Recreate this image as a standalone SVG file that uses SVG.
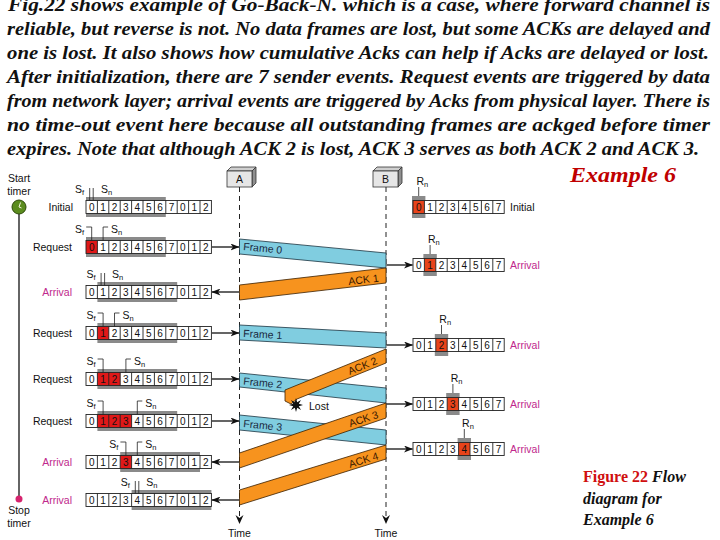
<svg xmlns="http://www.w3.org/2000/svg" width="720" height="540" viewBox="0 0 720 540">
<style>
.para{font-family:"Liberation Serif","Times New Roman",serif;font-weight:bold;font-style:italic;font-size:19px;fill:#111}
.lbl{font-family:"Liberation Sans",Arial,sans-serif;font-size:10.5px;fill:#111}
.arr{fill:#c0288c}
.dig{font-family:"Liberation Sans",Arial,sans-serif;font-size:10px;fill:#111;text-anchor:middle}
.ptr{font-family:"Liberation Sans",Arial,sans-serif;font-size:10.5px;fill:#111}
.sub{font-size:7.5px}
.win{fill:#8a8a8a}
.cellbg{fill:#fff}
.sred{fill:#e01818}
.rred{fill:#e8431a}
.grid{fill:none;stroke:#222;stroke-width:0.9}
.pl{fill:none;stroke:#222;stroke-width:0.8}
.conn{stroke:#111;stroke-width:1.3;fill:none}
.life{stroke:#222;stroke-width:1;stroke-dasharray:5,4;fill:none}
.frame{fill:#80cde0;stroke:#1c3440;stroke-width:0.8}
.ack{fill:#f7931e;stroke:#3a2000;stroke-width:0.8}
.bl{font-family:"Liberation Sans",Arial,sans-serif;font-size:10.5px;fill:#1a2a40}
.al{font-family:"Liberation Sans",Arial,sans-serif;font-size:10.5px;fill:#3a1800;text-anchor:end}
</style>
<defs>
<marker id="ah" markerWidth="9" markerHeight="7" refX="8.5" refY="3.5" orient="auto" markerUnits="userSpaceOnUse"><path d="M0,0 L9,3.5 L0,7 L2.5,3.5 z" fill="#111"/></marker>
<g id="sgrid">
<rect class="grid" x="86" y="-6.5" width="125.4" height="13"/>
<path class="grid" d="M97.4,-6.5V6.5M108.8,-6.5V6.5M120.2,-6.5V6.5M131.6,-6.5V6.5M143,-6.5V6.5M154.4,-6.5V6.5M165.8,-6.5V6.5M177.2,-6.5V6.5M188.6,-6.5V6.5M200,-6.5V6.5"/>
<text class="dig" y="3.6"><tspan x="91.7">0</tspan><tspan x="103.1">1</tspan><tspan x="114.5">2</tspan><tspan x="125.9">3</tspan><tspan x="137.3">4</tspan><tspan x="148.7">5</tspan><tspan x="160.1">6</tspan><tspan x="171.5">7</tspan><tspan x="182.9">0</tspan><tspan x="194.3">1</tspan><tspan x="205.7">2</tspan></text>
</g>
<g id="rgrid">
<rect class="grid" x="413" y="-6.5" width="91.2" height="13"/>
<path class="grid" d="M424.4,-6.5V6.5M435.8,-6.5V6.5M447.2,-6.5V6.5M458.6,-6.5V6.5M470,-6.5V6.5M481.4,-6.5V6.5M492.8,-6.5V6.5"/>
<text class="dig" y="3.6"><tspan x="418.7">0</tspan><tspan x="430.1">1</tspan><tspan x="441.5">2</tspan><tspan x="452.9">3</tspan><tspan x="464.3">4</tspan><tspan x="475.7">5</tspan><tspan x="487.1">6</tspan><tspan x="498.5">7</tspan></text>
</g>
</defs>

<g id="paragraph">
<text class="para" x="8" y="11" textLength="702" lengthAdjust="spacingAndGlyphs">Fig.22 shows example of Go-Back-N. which is a case, where  forward channel is</text>
<text class="para" x="7" y="35" textLength="703" lengthAdjust="spacingAndGlyphs">reliable, but reverse is not. No data frames are lost, but some ACKs are delayed and</text>
<text class="para" x="7" y="59" textLength="702" lengthAdjust="spacingAndGlyphs">one is lost. It also shows how cumulative Acks can help if Acks are delayed or lost.</text>
<text class="para" x="7" y="83" textLength="703" lengthAdjust="spacingAndGlyphs">After initialization, there are 7 sender events. Request events are triggered by data</text>
<text class="para" x="7" y="107" textLength="703" lengthAdjust="spacingAndGlyphs">from network layer; arrival events are triggered by Acks from physical layer. There is</text>
<text class="para" x="7" y="131" textLength="703" lengthAdjust="spacingAndGlyphs">no time-out event here because all outstanding frames are ackged before timer</text>
<text class="para" x="7" y="155" textLength="692" lengthAdjust="spacingAndGlyphs">expires. Note that although ACK 2 is lost, ACK 3 serves as both ACK 2 and ACK 3.</text>
</g>

<g id="example-title">
<text x="570" y="182" textLength="106" lengthAdjust="spacingAndGlyphs" style="font-family:'Liberation Serif','Times New Roman',serif;font-weight:bold;font-style:italic;font-size:22px;fill:#c00000">Example 6</text>
</g>

<g id="caption" style="font-family:'Liberation Serif','Times New Roman',serif;font-weight:bold;font-size:16px;fill:#111">
<text x="583" y="482"><tspan fill="#d01010">Figure 22</tspan><tspan font-style="italic" dx="4">Flow</tspan></text>
<text x="583" y="504" font-style="italic">diagram for</text>
<text x="583" y="525" font-style="italic">Example 6</text>
</g>

<g id="timer">
<text class="lbl" x="19" y="182" text-anchor="middle">Start</text>
<text class="lbl" x="19" y="195" text-anchor="middle">timer</text>
<line x1="19" y1="214" x2="19" y2="498" stroke="#111" stroke-width="1.3"/>
<circle cx="19" cy="207" r="7" fill="#5b8c1e" stroke="#2d4a0a" stroke-width="1"/>
<path d="M19,207 L20.5,202.5 M19,207 L21.5,208" stroke="#f4f4e0" stroke-width="1" fill="none"/>
<circle cx="19" cy="499" r="3.5" fill="#d6246e"/>
<text class="lbl" x="19" y="514" text-anchor="middle">Stop</text>
<text class="lbl" x="19" y="527" text-anchor="middle">timer</text>
</g>

<g id="station-A">
<polygon points="227,171 231,167 256,167 252,171" fill="#cfcfcf" stroke="#333" stroke-width="0.8"/>
<polygon points="252,171 256,167 256,183 252,187" fill="#8f8f8f" stroke="#333" stroke-width="0.8"/>
<rect x="227" y="171" width="25" height="16" fill="#e6e6e6" stroke="#333" stroke-width="0.8"/>
<text class="lbl" x="239.5" y="183" text-anchor="middle">A</text>
<path class="life" d="M239.5,187 V519"/>
<path d="M235.5,515 L239.5,524 L243.5,515 L239.5,518 z" fill="#111"/>
<text class="lbl" x="239.5" y="537" text-anchor="middle">Time</text>
</g>
<g id="station-B">
<polygon points="373,171 377,167 402,167 398,171" fill="#cfcfcf" stroke="#333" stroke-width="0.8"/>
<polygon points="398,171 402,167 402,183 398,187" fill="#8f8f8f" stroke="#333" stroke-width="0.8"/>
<rect x="373" y="171" width="25" height="16" fill="#e6e6e6" stroke="#333" stroke-width="0.8"/>
<text class="lbl" x="385.5" y="183" text-anchor="middle">B</text>
<path class="life" d="M386,187 V519"/>
<path d="M382,515 L386,524 L390,515 L386,518 z" fill="#111"/>
<text class="lbl" x="386" y="537" text-anchor="middle">Time</text>
</g>

<g id="sender-initial">
<rect class="win" x="86" y="197" width="79.8" height="20"/>
<rect class="cellbg" x="86" y="200.5" width="125.4" height="13"/>
<use href="#sgrid" y="207"/>
<path class="pl" d="M89.7,188V200.5M93.2,188V200.5"/>
<text class="ptr" x="84" y="193" text-anchor="end">S<tspan class="sub" dy="2">f</tspan></text>
<text class="ptr" x="101" y="193">S<tspan class="sub" dy="2">n</tspan></text>
<text class="lbl" x="73" y="211" text-anchor="end">Initial</text>
</g>
<g id="sender-request-0">
<rect class="win" x="86" y="237" width="79.8" height="20"/>
<rect class="cellbg" x="86" y="240.5" width="125.4" height="13"/>
<rect class="sred" x="86" y="240.5" width="11.4" height="13"/>
<use href="#sgrid" y="247"/>
<path class="pl" d="M86.2,227H91.7V240.5M103.1,240.5V227H108.1"/>
<text class="ptr" x="84" y="233" text-anchor="end">S<tspan class="sub" dy="2">f</tspan></text>
<text class="ptr" x="111" y="233">S<tspan class="sub" dy="2">n</tspan></text>
<text class="lbl" x="72" y="251" text-anchor="end">Request</text>
</g>
<g id="sender-arrival-1">
<rect class="win" x="97.4" y="282" width="79.8" height="20"/>
<rect class="cellbg" x="86" y="285.5" width="125.4" height="13"/>
<use href="#sgrid" y="292"/>
<path class="pl" d="M101.1,273V285.5M104.6,273V285.5"/>
<text class="ptr" x="95.6" y="278" text-anchor="end">S<tspan class="sub" dy="2">f</tspan></text>
<text class="ptr" x="112" y="278">S<tspan class="sub" dy="2">n</tspan></text>
<text class="lbl arr" x="72" y="296" text-anchor="end">Arrival</text>
</g>
<g id="sender-request-1">
<rect class="win" x="97.4" y="323" width="79.8" height="20"/>
<rect class="cellbg" x="86" y="326.5" width="125.4" height="13"/>
<rect class="sred" x="97.4" y="326.5" width="11.4" height="13"/>
<use href="#sgrid" y="333"/>
<path class="pl" d="M97.6,313H103.1V326.5M114.5,326.5V313H119.5"/>
<text class="ptr" x="95.5" y="319" text-anchor="end">S<tspan class="sub" dy="2">f</tspan></text>
<text class="ptr" x="122.5" y="319">S<tspan class="sub" dy="2">n</tspan></text>
<text class="lbl" x="72" y="337" text-anchor="end">Request</text>
</g>
<g id="sender-request-2">
<rect class="win" x="97.4" y="369" width="79.8" height="20"/>
<rect class="cellbg" x="86" y="372.5" width="125.4" height="13"/>
<rect class="sred" x="97.4" y="372.5" width="22.8" height="13"/>
<use href="#sgrid" y="379"/>
<path class="pl" d="M97.6,359H103.1V372.5M125.9,372.5V359H130.9"/>
<text class="ptr" x="95.5" y="365" text-anchor="end">S<tspan class="sub" dy="2">f</tspan></text>
<text class="ptr" x="133.9" y="365">S<tspan class="sub" dy="2">n</tspan></text>
<text class="lbl" x="72" y="383" text-anchor="end">Request</text>
</g>
<g id="sender-request-3">
<rect class="win" x="97.4" y="411" width="79.8" height="20"/>
<rect class="cellbg" x="86" y="414.5" width="125.4" height="13"/>
<rect class="sred" x="97.4" y="414.5" width="34.2" height="13"/>
<use href="#sgrid" y="421"/>
<path class="pl" d="M97.6,401H103.1V414.5M137.3,414.5V401H142.3"/>
<text class="ptr" x="95.5" y="407" text-anchor="end">S<tspan class="sub" dy="2">f</tspan></text>
<text class="ptr" x="145.3" y="407">S<tspan class="sub" dy="2">n</tspan></text>
<text class="lbl" x="72" y="425" text-anchor="end">Request</text>
</g>
<g id="sender-arrival-3">
<rect class="win" x="120.2" y="452" width="79.8" height="20"/>
<rect class="cellbg" x="86" y="455.5" width="125.4" height="13"/>
<rect class="sred" x="120.2" y="455.5" width="11.4" height="13"/>
<use href="#sgrid" y="462"/>
<path class="pl" d="M120.4,442H125.9V455.5M137.3,455.5V442H142.3"/>
<text class="ptr" x="118.4" y="448" text-anchor="end">S<tspan class="sub" dy="2">f</tspan></text>
<text class="ptr" x="145.3" y="448">S<tspan class="sub" dy="2">n</tspan></text>
<text class="lbl arr" x="72" y="466" text-anchor="end">Arrival</text>
</g>
<g id="sender-arrival-4">
<rect class="win" x="131.6" y="490" width="79.8" height="20"/>
<rect class="cellbg" x="86" y="493.5" width="125.4" height="13"/>
<use href="#sgrid" y="500"/>
<path class="pl" d="M135.3,481V493.5M138.8,481V493.5"/>
<text class="ptr" x="129.8" y="486" text-anchor="end">S<tspan class="sub" dy="2">f</tspan></text>
<text class="ptr" x="146.3" y="486">S<tspan class="sub" dy="2">n</tspan></text>
<text class="lbl arr" x="72" y="504" text-anchor="end">Arrival</text>
</g>

<g id="receiver-initial">
<rect class="win" x="412" y="196" width="13.4" height="22"/>
<rect class="cellbg" x="413" y="200.5" width="91.2" height="13"/>
<rect class="rred" x="413" y="200.5" width="11.4" height="13"/>
<use href="#rgrid" y="207"/>
<path class="pl" d="M418.7,187V196"/>
<text class="ptr" x="416.5" y="185">R<tspan class="sub" dy="2">n</tspan></text>
<text class="lbl" x="510" y="211">Initial</text>
</g>
<g id="receiver-arrival-0">
<rect class="win" x="423.4" y="254" width="13.4" height="22"/>
<rect class="cellbg" x="413" y="258.5" width="91.2" height="13"/>
<rect class="rred" x="424.4" y="258.5" width="11.4" height="13"/>
<use href="#rgrid" y="265"/>
<path class="pl" d="M430.1,245V254"/>
<text class="ptr" x="427.9" y="243">R<tspan class="sub" dy="2">n</tspan></text>
<text class="lbl arr" x="510" y="269">Arrival</text>
</g>
<g id="receiver-arrival-1">
<rect class="win" x="434.8" y="334" width="13.4" height="22"/>
<rect class="cellbg" x="413" y="338.5" width="91.2" height="13"/>
<rect class="rred" x="435.8" y="338.5" width="11.4" height="13"/>
<use href="#rgrid" y="345"/>
<path class="pl" d="M441.5,325V334"/>
<text class="ptr" x="439.3" y="323">R<tspan class="sub" dy="2">n</tspan></text>
<text class="lbl arr" x="510" y="349">Arrival</text>
</g>
<g id="receiver-arrival-2">
<rect class="win" x="446.2" y="393" width="13.4" height="22"/>
<rect class="cellbg" x="413" y="397.5" width="91.2" height="13"/>
<rect class="rred" x="447.2" y="397.5" width="11.4" height="13"/>
<use href="#rgrid" y="404"/>
<path class="pl" d="M452.9,384V393"/>
<text class="ptr" x="450.7" y="382">R<tspan class="sub" dy="2">n</tspan></text>
<text class="lbl arr" x="510" y="408">Arrival</text>
</g>
<g id="receiver-arrival-3">
<rect class="win" x="457.6" y="438" width="13.4" height="22"/>
<rect class="cellbg" x="413" y="442.5" width="91.2" height="13"/>
<rect class="rred" x="458.6" y="442.5" width="11.4" height="13"/>
<use href="#rgrid" y="449"/>
<path class="pl" d="M464.3,429V438"/>
<text class="ptr" x="462.1" y="427">R<tspan class="sub" dy="2">n</tspan></text>
<text class="lbl arr" x="510" y="453">Arrival</text>
</g>

<g id="connectors">
<polygon class="frame" points="239.5,239 386,253 386,268 239.5,254"/>
<text class="bl" x="243" y="250" transform="rotate(5.4 243 250)">Frame 0</text>
<polygon class="ack" points="386,268 386,283 239.5,300 239.5,285"/>
<text class="al" x="379" y="281.5" transform="rotate(-6.6 379 281.5)">ACK 1</text>
<polygon class="frame" points="239.5,325 386,333 386,348 239.5,340"/>
<text class="bl" x="243" y="337" transform="rotate(3.1 243 337)">Frame 1</text>
<polygon class="frame" points="239.5,373 386,388 386,403 239.5,387"/>
<text class="bl" x="243" y="384.5" transform="rotate(5.8 243 384.5)">Frame 2</text>
<polygon class="ack" points="386,349 386,363 297,399 291,404 285,401 285,390"/>
<text class="al" x="378" y="363.5" transform="rotate(-22.1 378 363.5)">ACK 2</text>
<polygon fill="#111" transform="translate(296 405)" points="7,0 2.8,1.2 5,5 1.2,2.8 0,7 -1.2,2.8 -5,5 -2.8,1.2 -7,0 -2.8,-1.2 -5,-5 -1.2,-2.8 0,-7 1.2,-2.8 5,-5 2.8,-1.2"/>
<text class="lbl" x="309" y="410">Lost</text>
<polygon class="frame" points="239.5,415 386,430 386,445 239.5,430"/>
<text class="bl" x="243" y="427" transform="rotate(5.8 243 427)">Frame 3</text>
<polygon class="ack" points="386,403 386,418 239.5,468 239.5,453"/>
<text class="al" x="379" y="417.5" transform="rotate(-18.8 379 417.5)">ACK 3</text>
<polygon class="ack" points="386,445 386,459 239.5,505 239.5,490"/>
<text class="al" x="379" y="459" transform="rotate(-17 379 459)">ACK 4</text>

<line class="conn" x1="212" y1="247" x2="239" y2="247" marker-end="url(#ah)"/>
<line class="conn" x1="239" y1="292" x2="212" y2="292" stroke-width="1.8" marker-end="url(#ah)"/>
<line class="conn" x1="212" y1="333" x2="239" y2="333" marker-end="url(#ah)"/>
<line class="conn" x1="212" y1="379" x2="239" y2="379" marker-end="url(#ah)"/>
<line class="conn" x1="212" y1="421" x2="239" y2="421" marker-end="url(#ah)"/>
<line class="conn" x1="239" y1="462" x2="212" y2="462" stroke-width="1.8" marker-end="url(#ah)"/>
<line class="conn" x1="239" y1="500" x2="212" y2="500" stroke-width="1.8" marker-end="url(#ah)"/>
<line class="conn" x1="386.5" y1="265" x2="412.5" y2="265" marker-end="url(#ah)"/>
<line class="conn" x1="386.5" y1="345" x2="412.5" y2="345" marker-end="url(#ah)"/>
<line class="conn" x1="386.5" y1="404" x2="412.5" y2="404" marker-end="url(#ah)"/>
<line class="conn" x1="386.5" y1="449" x2="412.5" y2="449" marker-end="url(#ah)"/>
</g>
</svg>
